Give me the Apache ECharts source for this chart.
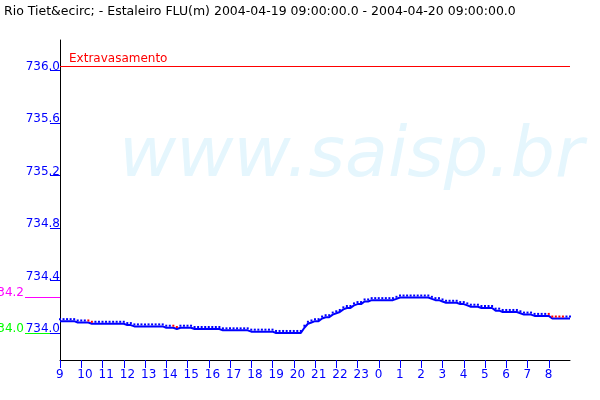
<!DOCTYPE html>
<html>
<head>
<meta charset="utf-8">
<script src="https://cdn.jsdelivr.net/npm/echarts@6/dist/echarts.min.js"></script>
<style>html,body{margin:0;padding:0;background:#fff}#c{width:600px;height:400px}</style>
</head>
<body>
<div id="c"></div>
<script>
// ---- data ----
const titleText = 'Rio Tiet&ecirc; - Estaleiro FLU(m) 2004-04-19 09:00:00.0 - 2004-04-20 09:00:00.0';
const watermarkText = 'www.saisp.br';
const hourLabels = ['9','10','11','12','13','14','15','16','17','18','19','20','21','22','23','0','1','2','3','4','5','6','7','8'];
const yTickValues = [734.0, 734.4, 734.8, 735.2, 735.6, 736.0];
const overflowLevel = 736.03;
const overflowLabel = 'Extravasamento';
const alertLevel = 734.27;
const alertLabel = '734.2';
const baseLevel = 734.0;
const baseLabel = '734.0';
const stepMinutes = 10; // one reading every 10 minutes from 09:00
const levels = [
  734.09,734.09,734.09,734.09,734.09,734.08,734.08,734.08,734.08,734.07,
  734.07,734.07,734.07,734.07,734.07,734.07,734.07,734.07,734.07,734.06,
  734.06,734.05,734.05,734.05,734.05,734.05,734.05,734.05,734.05,734.05,
  734.04,734.04,734.04,734.03,734.04,734.04,734.04,734.04,734.03,734.03,
  734.03,734.03,734.03,734.03,734.03,734.03,734.02,734.02,734.02,734.02,
  734.02,734.02,734.02,734.02,734.01,734.01,734.01,734.01,734.01,734.01,
  734.01,734.00,734.00,734.00,734.00,734.00,734.00,734.00,734.00,734.04,
  734.07,734.08,734.09,734.09,734.11,734.12,734.12,734.14,734.15,734.16,
  734.18,734.19,734.19,734.21,734.22,734.22,734.24,734.24,734.25,734.25,
  734.25,734.25,734.25,734.25,734.25,734.26,734.27,734.27,734.27,734.27,
  734.27,734.27,734.27,734.27,734.27,734.26,734.25,734.25,734.24,734.23,
  734.23,734.23,734.23,734.22,734.22,734.21,734.20,734.20,734.20,734.19,
  734.19,734.19,734.19,734.17,734.17,734.16,734.16,734.16,734.16,734.16,
  734.15,734.14,734.14,734.14,734.13,734.13,734.13,734.13,734.13,734.11,
  734.11,734.11,734.11,734.11,734.11
];
// spans (hours after 09:00) drawn in red (gaps in the record)
const redSpans = [[1.32, 1.6], [5.32, 5.6], [23.0, 23.75]];

// ---- chart ----
const BLUE = '#0000ff', RED = '#ff0000', MAGENTA = '#ff00ff', GREEN = '#00ff00';
const FONT = 'DejaVu Sans';
const seriesData = levels.map((v, i) => [i * stepMinutes / 60, v]);
const hourIdx = hourLabels.map((_, i) => i);

const pieces = [];
let start = null;
redSpans.forEach(([a, b]) => {
  pieces.push(start === null ? {lt: a, color: BLUE} : {gte: start, lt: a, color: BLUE});
  pieces.push({gte: a, lt: b, color: RED});
  start = b;
});
pieces.push({gte: start, color: BLUE});

const yMin = 733.794, yMax = 736.232;

const chart = echarts.init(document.getElementById('c'), null, {renderer: 'canvas'});
chart.setOption({
  animation: false,
  backgroundColor: '#ffffff',
  textStyle: {fontFamily: FONT},
  title: {
    text: titleText, left: 4, top: 5, padding: 0,
    textStyle: {fontSize: 12.5, fontWeight: 'normal', color: '#000', fontFamily: FONT}
  },
  graphic: [{
    type: 'text', z: 0, silent: true,
    style: {
      text: watermarkText, x: 119, y: 158,
      font: 'italic 70px "DejaVu Sans"', fill: '#e5f6fd',
      verticalAlign: 'middle', align: 'left'
    }
  }],
  grid: [
    {left: 60, right: 30, top: 40, bottom: 40, containLabel: false, outerBoundsMode: 'none'},
    // label-only grid, 4px to the left so tick labels start just left of their ticks
    {left: 56, right: 34, top: 40, bottom: 40, containLabel: false, outerBoundsMode: 'none'}
  ],
  xAxis: [{
    type: 'value', gridIndex: 0, min: 0, max: 24,
    axisLine: {show: true, lineStyle: {color: '#000', width: 1}},
    axisTick: {show: true, inside: false, length: 8, lineStyle: {color: BLUE}, customValues: hourIdx},
    axisLabel: {show: false},
    splitLine: {show: false}
  }, {
    type: 'value', gridIndex: 1, min: 0, max: 24, position: 'bottom',
    axisLine: {show: false}, axisTick: {show: false}, splitLine: {show: false},
    axisLabel: {
      show: true, customValues: hourIdx, align: 'left', margin: 9, lineHeight: 12,
      color: BLUE, fontSize: 12, fontFamily: FONT,
      formatter: v => hourLabels[Math.round(v)]
    }
  }],
  yAxis: [{
    type: 'value', gridIndex: 0, min: yMin, max: yMax, position: 'left',
    axisLine: {show: true, lineStyle: {color: '#000', width: 1}},
    axisTick: {show: true, inside: false, length: 10, lineStyle: {color: BLUE}, customValues: yTickValues},
    axisLabel: {
      show: true, customValues: yTickValues, margin: 0, color: BLUE, fontSize: 12,
      fontFamily: FONT, verticalAlign: 'bottom', lineHeight: 8,
      formatter: v => v.toFixed(1)
    },
    splitLine: {show: false}
  }, {
    type: 'value', gridIndex: 0, min: yMin, max: yMax, position: 'left', offset: 35,
    axisLine: {show: false}, splitLine: {show: false},
    axisTick: {show: true, inside: true, length: 35, lineStyle: {color: MAGENTA}, customValues: [alertLevel]},
    axisLabel: {
      show: true, customValues: [alertLevel], margin: 1, color: MAGENTA, fontSize: 12,
      fontFamily: FONT, verticalAlign: 'bottom', lineHeight: 10,
      formatter: () => alertLabel
    }
  }, {
    type: 'value', gridIndex: 0, min: yMin, max: yMax, position: 'left', offset: 35,
    axisLine: {show: false}, splitLine: {show: false},
    axisTick: {show: true, inside: true, length: 25, lineStyle: {color: GREEN}, customValues: [baseLevel]},
    axisLabel: {
      show: true, customValues: [baseLevel], margin: 1, color: GREEN, fontSize: 12,
      fontFamily: FONT, verticalAlign: 'bottom', lineHeight: 8,
      formatter: () => baseLabel
    }
  }, {
    type: 'value', gridIndex: 1, min: yMin, max: yMax, show: false
  }],
  visualMap: {
    type: 'piecewise', show: false, dimension: 0, seriesIndex: 0, pieces: pieces
  },
  series: [{
    type: 'line', xAxisIndex: 0, yAxisIndex: 0, data: seriesData,
    lineStyle: {width: 2, color: BLUE},
    symbol: 'rect', symbolSize: [2, 2], symbolOffset: [0, -2], showSymbol: true, showAllSymbol: true,
    itemStyle: {color: BLUE},
    z: 3,
    markLine: {
      silent: true, symbol: ['none', 'none'], animation: false,
      lineStyle: {color: RED, width: 1, type: 'solid'},
      label: {
        show: true, position: 'insideStartTop', distance: [9, 2],
        color: RED, fontSize: 12, fontFamily: FONT, formatter: () => overflowLabel
      },
      emphasis: {disabled: true},
      data: [{yAxis: overflowLevel}]
    }
  }]
});
</script>
</body>
</html>
